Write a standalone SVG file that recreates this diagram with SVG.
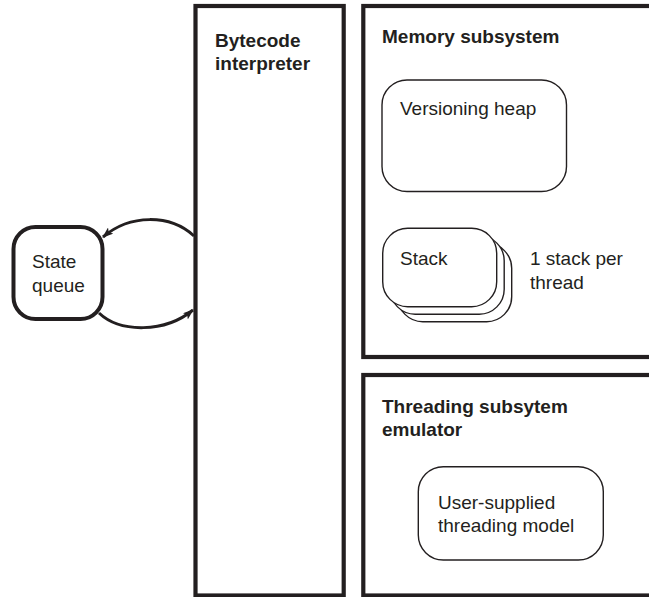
<svg xmlns="http://www.w3.org/2000/svg" width="649" height="597" viewBox="0 0 649 597">
<style>
.outer{fill:none;stroke:#231f20;stroke-width:4.2}
.inner{fill:#fff;stroke:#231f20;stroke-width:1.4}
.thick{fill:#fff;stroke:#231f20;stroke-width:4}
.conn{fill:none;stroke:#231f20;stroke-width:3}
.t{font-family:"Liberation Sans",Arial,sans-serif;font-size:19px;fill:#231f20}
.b{font-weight:bold}
</style>
<defs>
<marker id="ah" viewBox="0 0 11 8" refX="10" refY="4" markerWidth="11" markerHeight="8" orient="auto" markerUnits="userSpaceOnUse">
<path d="M0,0 L11,4 L0,8 L2.5,4 z" fill="#231f20"/>
</marker>
</defs>
<rect width="649" height="597" fill="#fff"/>
<g id="bytecode-interpreter">
<rect class="outer" x="195.5" y="6" width="148.2" height="589.5"/>
<text class="t b" x="215" y="46.7">Bytecode</text>
<text class="t b" x="215" y="70">interpreter</text>
</g>
<g id="memory-subsystem">
<rect class="outer" x="363.3" y="6" width="300" height="351"/>
<text class="t b" x="382" y="43.3">Memory subsystem</text>
</g>
<g id="versioning-heap">
<rect class="inner" x="382" y="80" width="184.5" height="111.5" rx="25" ry="25"/>
<text class="t" x="400" y="115">Versioning heap</text>
</g>
<g id="stack">
<rect class="inner" x="397.7" y="243.3" width="114" height="78.4" rx="25" ry="25"/>
<rect class="inner" x="390.2" y="235.8" width="114" height="78.4" rx="25" ry="25"/>
<rect class="inner" x="382.7" y="228.3" width="114" height="78.4" rx="25" ry="25"/>
<text class="t" x="400" y="265">Stack</text>
</g>
<g id="stack-note">
<text class="t" x="530" y="265">1 stack per</text>
<text class="t" x="530" y="288.5">thread</text>
</g>
<g id="threading-subsystem">
<rect class="outer" x="363.3" y="375" width="300" height="220.5"/>
<text class="t b" x="382" y="413">Threading subsytem</text>
<text class="t b" x="382" y="435.5">emulator</text>
</g>
<g id="threading-model">
<rect class="inner" x="418.3" y="466.7" width="185" height="93.3" rx="25" ry="25"/>
<text class="t" x="438" y="508.5">User-supplied</text>
<text class="t" x="438" y="532">threading model</text>
</g>
<g id="state-queue">
<rect class="thick" x="13.5" y="227" width="89" height="92" rx="22" ry="22"/>
<text class="t" x="32" y="268">State</text>
<text class="t" x="32" y="292">queue</text>
</g>
<g id="connectors">
<path class="conn" d="M194,236 C170,214 130,214 103,237" marker-end="url(#ah)"/>
<path class="conn" d="M99,313 C120,333 165,333 193,310" marker-end="url(#ah)"/>
</g>
</svg>
